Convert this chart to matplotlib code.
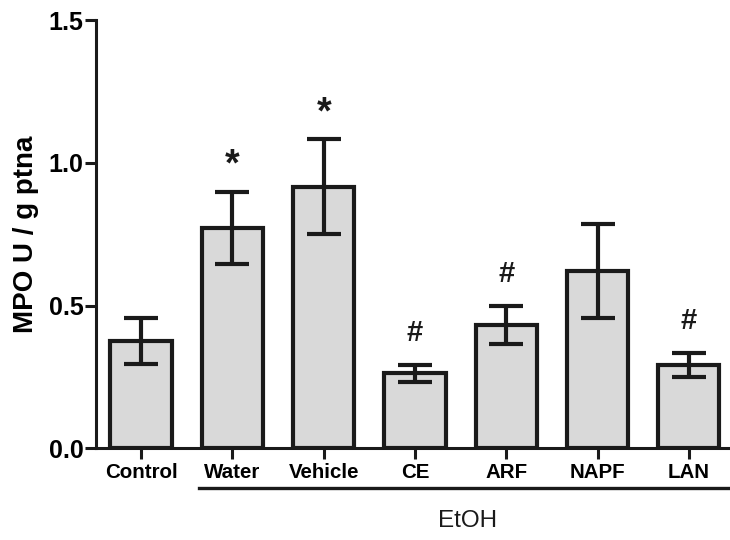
import matplotlib.pyplot as plt
from matplotlib.transforms import blended_transform_factory

plt.rcParams["font.family"] = ["Liberation Sans", "DejaVu Sans"]
plt.rcParams["font.weight"] = "bold"

groups = ["Control", "Water", "Vehicle", "CE", "ARF", "NAPF", "LAN"]
mpo_mean = [0.376, 0.773, 0.917, 0.262, 0.432, 0.621, 0.291]
mpo_sem = [0.081, 0.126, 0.165, 0.031, 0.066, 0.163, 0.043]
marks = ["", "*", "*", "#", "#", "", "#"]

fig = plt.figure(figsize=(7.3, 5.4), dpi=100)
ax = fig.add_axes([0.1315, 0.170, 0.8685, 0.7926])

x = list(range(len(groups)))
ax.bar(x, mpo_mean, width=0.67, color="#d9d9d9", edgecolor="#1a1a1a",
       linewidth=3.0, zorder=2)
ax.errorbar(x, mpo_mean, yerr=mpo_sem, fmt="none", ecolor="#1a1a1a",
            elinewidth=3.0, capsize=12, capthick=3.0, zorder=3)

for xi, m, s, lab in zip(x, mpo_mean, mpo_sem, marks):
    if not lab:
        continue
    size = 27 if lab == "*" else 21
    dy = 19 if lab == "*" else 23
    ax.annotate(lab, (xi, m + s), xytext=(0, dy), textcoords="offset points",
                ha="center", va="center", fontsize=size, fontweight="bold",
                color="#1a1a1a")

ax.set_xlim(-0.493, 6.45)
ax.set_ylim(0, 1.5)
ax.set_yticks([0.0, 0.5, 1.0, 1.5])
ax.set_yticklabels(["0.0", "0.5", "1.0", "1.5"], fontsize=18, fontweight="bold")
ax.set_xticks(x)
ax.set_xticklabels(groups, fontsize=14.8, fontweight="bold")
ax.tick_params(axis="y", length=8, width=2.2, color="#1a1a1a", pad=1)
ax.tick_params(axis="x", length=8, width=2.2, color="#1a1a1a", pad=3)

for side in ["top", "right"]:
    ax.spines[side].set_visible(False)
for side in ["left", "bottom"]:
    ax.spines[side].set_linewidth(2.2)
    ax.spines[side].set_color("#1a1a1a")

ax.set_ylabel("MPO U / g ptna", fontsize=20, fontweight="bold", labelpad=7)

# bracket line under the ethanol-treated groups
trans = blended_transform_factory(ax.transData, ax.transAxes)
ax.plot([0.636, 6.7], [-0.0935, -0.0935], transform=trans, color="#1a1a1a",
        linewidth=2.4, clip_on=False)
ax.text(3.58, -0.17, "EtOH", transform=trans, ha="center", va="center",
        fontsize=17.5, fontweight="medium", color="#1a1a1a")

fig.savefig("out.png", dpi=100)
